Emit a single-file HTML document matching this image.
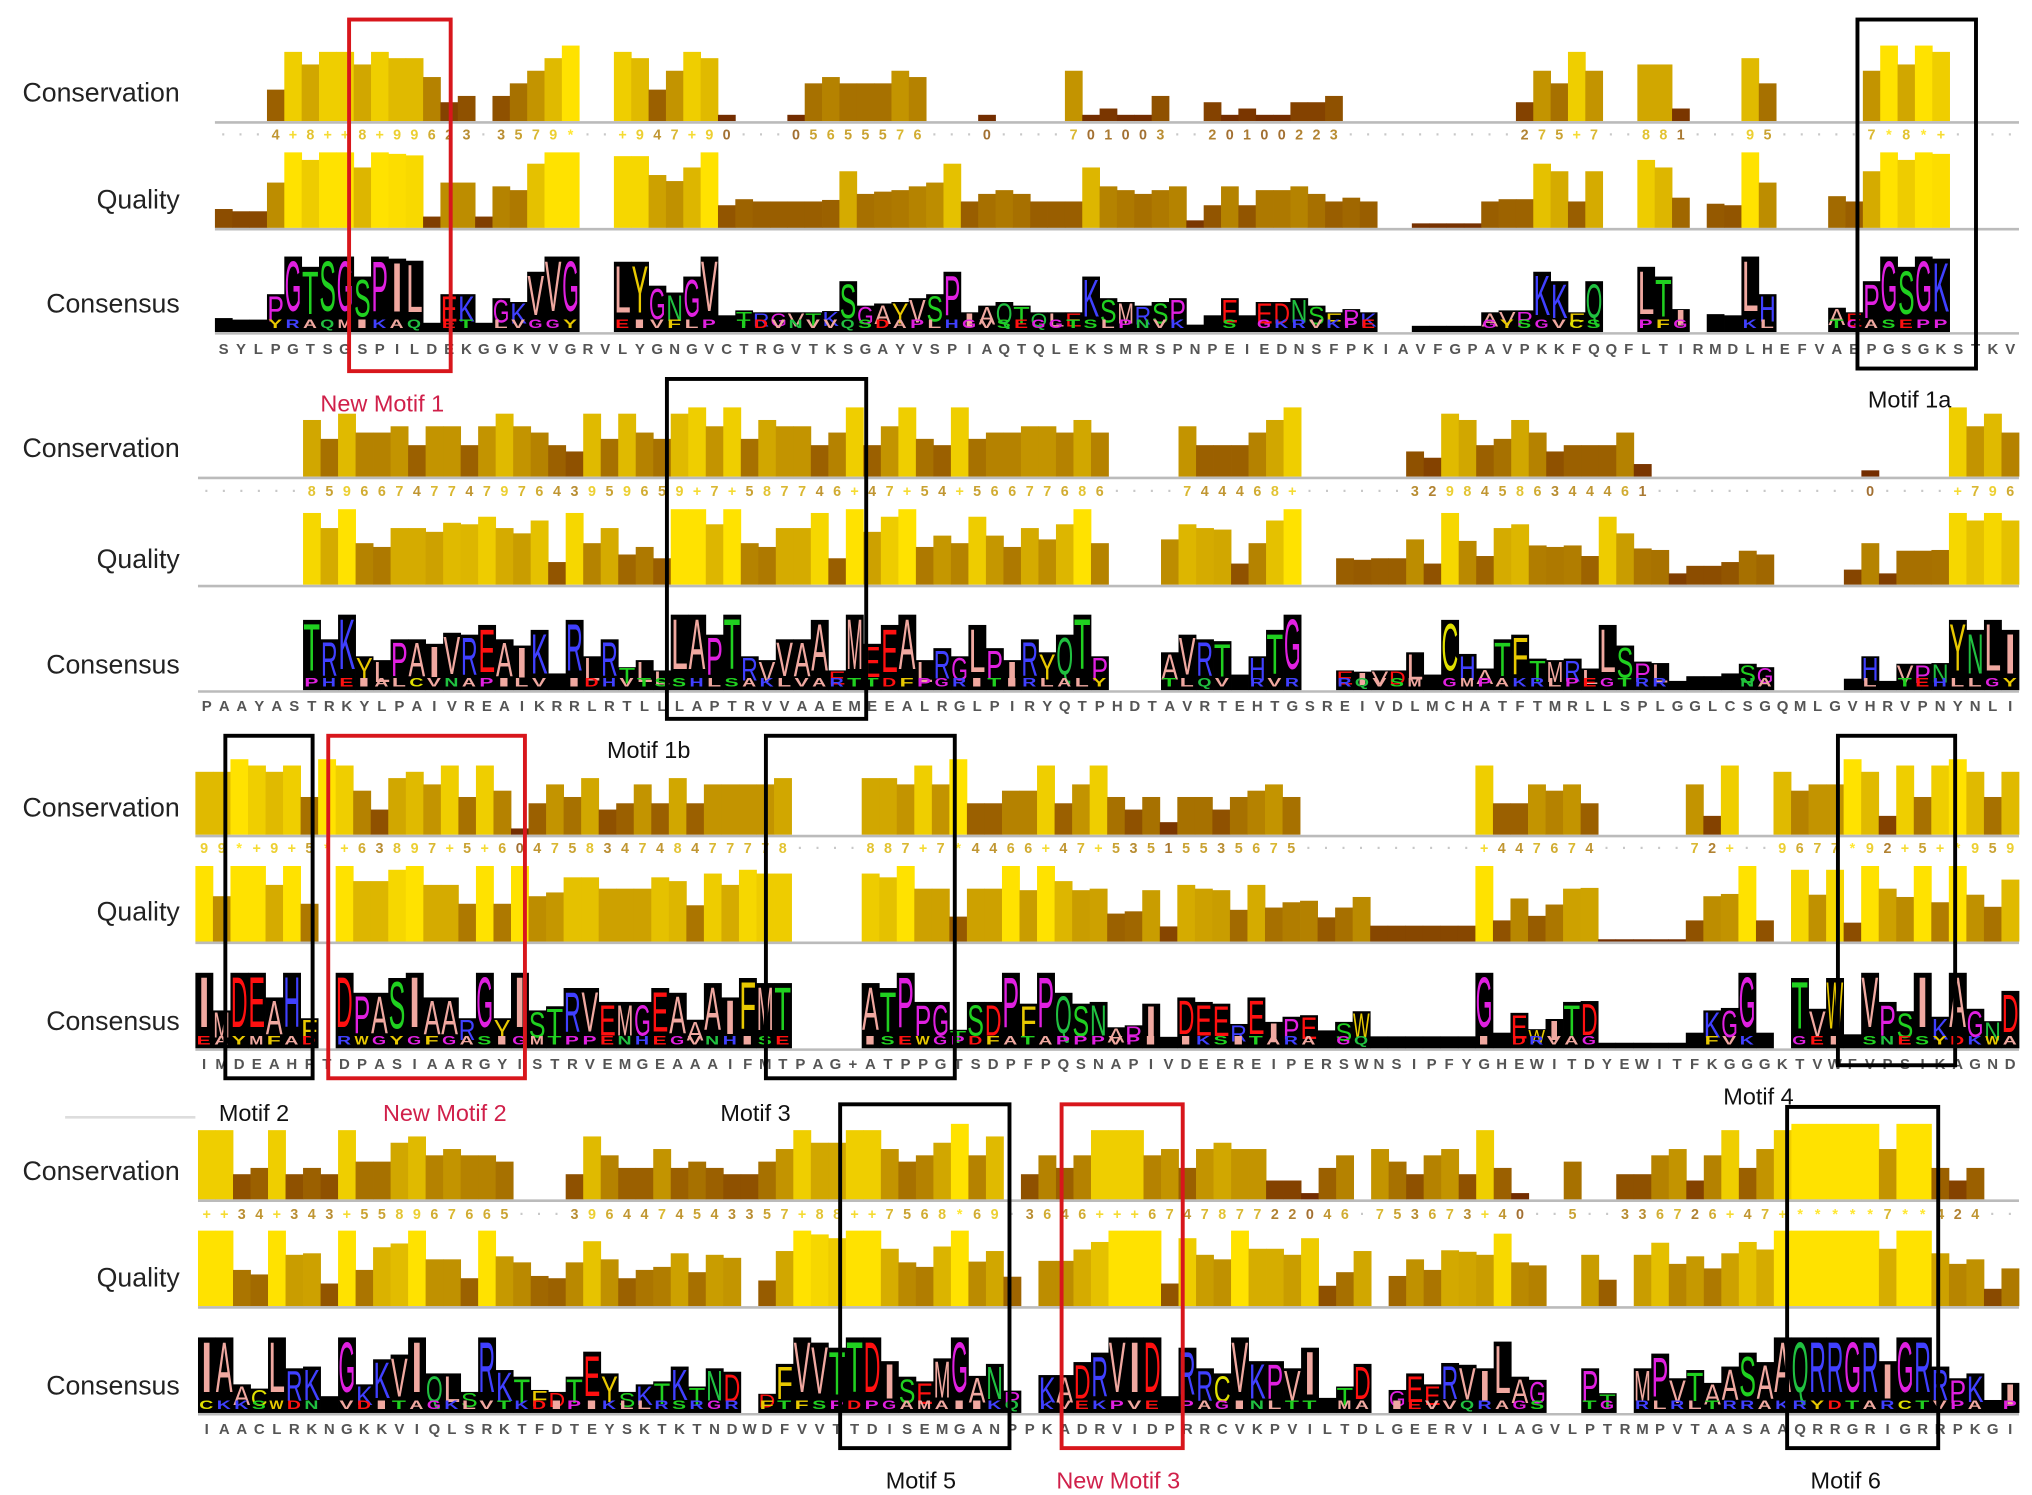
<!DOCTYPE html>
<html><head><meta charset="utf-8">
<style>
html,body{margin:0;padding:0;background:#fff;}
svg{display:block;}
</style></head>
<body>
<svg id="chart" width="2032" height="1495" viewBox="0 0 1560 1148" preserveAspectRatio="none" xmlns="http://www.w3.org/2000/svg" font-family="Liberation Sans, Arial, sans-serif">
<rect x="0" y="0" width="1560" height="1148" fill="#fff"/>
<g id="panels"></g>
<g id="boxes" fill="none" stroke-width="3">
  <rect x="268" y="15" width="78" height="270" stroke="#d8161c"/>
  <rect x="1426" y="15" width="91" height="268" stroke="#000"/>
  <rect x="512" y="291" width="153" height="261" stroke="#000"/>
  <rect x="173" y="565" width="67" height="263" stroke="#000"/>
  <rect x="252" y="565" width="151" height="263" stroke="#d8161c"/>
  <rect x="588" y="565" width="145" height="263" stroke="#000"/>
  <rect x="1411" y="565" width="90" height="253" stroke="#000"/>
  <rect x="645" y="848" width="130" height="264" stroke="#000"/>
  <rect x="815" y="848" width="93" height="264" stroke="#d8161c"/>
  <rect x="1372" y="850" width="116" height="262" stroke="#000"/>
</g>
<line x1="50" y1="858" x2="150" y2="858" stroke="#ddd" stroke-width="2"/>
<g font-size="18">
  <text x="246" y="316" fill="#d0204a">New Motif 1</text>
  <text x="1434" y="313" fill="#111">Motif 1a</text>
  <text x="466" y="582" fill="#111">Motif 1b</text>
  <text x="168" y="861" fill="#111">Motif 2</text>
  <text x="294" y="861" fill="#d0204a">New Motif 2</text>
  <text x="553" y="861" fill="#111">Motif 3</text>
  <text x="1323" y="848" fill="#111">Motif 4</text>
  <text x="680" y="1143" fill="#111">Motif 5</text>
  <text x="811" y="1143" fill="#d0204a">New Motif 3</text>
  <text x="1390" y="1143" fill="#111">Motif 6</text>
</g>
</svg>
<script>
const _ = null;
const seq1 = "SYLPGTSGSPILDEKGGKVVGRVLYGNGVCTRGVTKSGAYVSPIAQTQLEKSMRSPNPEIEDNSFPKIAVFGPAVPKKFQQFLTIRMDLHEFVAEPGSGKSTKV";
const seq2 = "PAAYASTRKYLPAIVREAIKRRLRTLLLAPTRVVAAEMEEALRGLPIRYQTPHDTAVRTEHTGSREIVDLMCHATFTMRLLSPLGGLCSGQMLGVHRVPNYNLI";
const seq3 = "IMDEAHFTDPASIAARGYISTRVEMGEAAAIFMTPAG+ATPPGTSDPFPQSNAPIVDEEREIPERSWNSIPFYGHEWITDYEWITFKGGGKTVWFVPSIKAGND";
const seq4 = "IAACLRKNGKKVIQLSRKTFDTEYSKTKTNDWDFVVTTDISEMGANPPKADRVIDPRRCVKPVILTDLGEERVILAGVLPTRMPVTAASAAQRRGRIGRRPKGI";

const cons1 = [_,_,_,4,10,8,10,10,8,10, 9,9,6,2,3,_,3,5,7,9, 11,_,_,10,9,4,7,10,9,0, _,_,_,0,5,6,5,5,5,7, 6,_,_,_,0,_,_,_,_,7, 0,1,0,0,3,_,_,2,0,1, 0,0,2,2,3,_,_,_,_,_, _,_,_,_,_,2,7,5,10,7, _,_,8,8,1,_,_,_,9,5, _,_,_,_,_,7,11,8,11,10, _,_,_,_];
const qual1 = [2.5,2.2,2.2,6,10,9,10,10,8,10, 9.8,9.6,1.5,6,6,1.5,5.5,5,8.5,10, 10,_,_,9.5,9.5,7,6.2,8,10,3, 3.8,3.5,3.5,3.5,3.5,3.7,7.5,4.5,4.8,5, 5.5,6,8.5,3.5,4.5,5,4.5,3.5,3.5,3.5, 8,5.5,5,4.5,5,5.5,1,3,5.5,3, 5,5,5.5,4.5,3.5,4,3.5,_,_,0.6, 0.6,0.6,0.6,3.5,3.8,3.8,8.5,7.5,3.5,7.5, _,_,9,8,4,_,3.2,3,10,6, _,_,_,4.2,3.5,7.5,10,9,10,9.8, _,_,_,_];

const cons2 = [_,_,_,_,_,_,8,5,9,6, 6,7,4,7,7,4,7,9,7,6, 4,3,9,5,9,6,5,9,10,7, 10,5,8,7,7,4,6,10,4,7, 10,5,4,10,5,6,6,7,7,6, 8,6,_,_,_,_,7,4,4,4, 6,8,10,_,_,_,_,_,_,3, 2,9,8,4,5,8,6,3,4,4, 4,6,1,_,_,_,_,_,_,_, _,_,_,_,_,0,_,_,_,_, 10,7,9,6];
const qual2 = [_,_,_,_,_,_,9.5,7.5,10,5.5, 5,7.5,7.5,7,8.2,8,9,7.5,6.8,8.5, 3,9.5,5.5,7.5,4,5,3.5,10,10,8, 10,5.5,5,7.5,7.5,9.5,3.5,10,7,9, 10,5,6.5,5.5,9,6.5,5,7.5,6,8, 10,5.5,_,_,_,6,8,7.5,7.3,2.8, 5.5,8.5,10,_,_,3.5,3.3,3.5,3.5,6, 2.8,9.5,5.8,3.8,7.5,8,5.2,5,5.2,3.8, 9,6.8,4.8,4.6,1.5,2.5,2.5,3,4.5,4, _,_,_,_,2,5.5,1.5,4.5,4.5,4.6, 9.5,8.5,9.5,8.5];

const cons3 = [9,9,11,10,9,10,5,11,10,6, 3,8,9,7,10,5,10,6,0,4, 7,5,8,3,4,7,4,8,4,7, 7,7,7,8,_,_,_,_,8,8, 7,10,7,11,4,4,6,6,10,4, 7,10,5,3,5,1,5,5,3,5, 6,7,5,_,_,_,_,_,_,_, _,_,_,10,4,4,7,6,7,4, _,_,_,_,_,7,2,10,_,_, 9,6,7,7,11,9,2,10,5,10, 11,9,5,9];
const qual3 = [10,6,10,10,7.5,10,5,_,10,8, 8,9.5,10,7.5,7.5,5,10,5,10,6, 6.5,8.5,8.5,7,7,7,8.5,8,4.8,9, 7.5,9.5,9,9,_,_,_,_,9,8.5, 10,7,7,3.3,7,7,10,6.8,10,8, 6.8,7,3.7,4,6.8,2,7.5,7,6.8,4.2, 7.5,4.5,5.2,5.4,3.2,4.5,5.9,2.1,2.1,2.1, 2.1,2.1,2.1,10,2.8,5.7,3.4,4.9,7,7.1, 0.3,0.3,0.3,0.3,0.3,2.8,6,6.3,10,2.8, _,9.5,6.2,9.5,2.5,10,7,5.9,10,5.2, 10,6.2,4.6,8.2];

const cons4 = [10,10,3,4,10,3,4,3,10,5, 5,8,9,6,7,6,6,5,_,_, _,3,9,6,4,4,7,4,5,4, 3,3,5,7,10,8,8,10,10,7, 5,6,8,11,6,9,_,3,6,4, 6,10,10,10,6,7,4,7,8,7, 7,2,2,0,4,6,_,7,5,3, 6,7,3,10,4,0,_,_,5,_, _,3,3,6,7,2,6,10,4,7, 10,11,11,11,11,11,7,11,11,4, 2,4,_,_];
const qual4 = [10,10,4.8,4.2,10,6.8,7,3,10,4.8, 7.8,8.3,10,6.2,6.2,3.7,10,6.6,5.8,4, 3.7,5.8,8.6,6.2,3.7,4.8,5.2,7,4.5,6.8, 6.4,_,3.4,7.3,10,9.5,9,10,10,7.6, 5.8,5.2,7.9,10,5.9,7.3,3.9,_,6,6, 7.5,8.5,10,10,10,3,9,6.8,6.2,10, 7.6,7.6,6.8,9,2.7,4.5,7.3,_,4,6.2, 4.8,7.4,7.2,6.8,9.6,5.8,5.4,_,_,6.8, 3.5,_,6.8,8.4,5.6,6.6,5,7,8.5,7.5, 10,10,10,10,10,10,7.6,10,10,7, 5.6,6.2,2.3,5];

const panelSeqs = [seq1, seq2, seq3, seq4];
const panelCons = [cons1, cons2, cons3, cons4];
const panelQual = [qual1, qual2, qual3, qual4];

const NS = "http://www.w3.org/2000/svg";
const layouts = [
  {x0:165, x1:1550, consBase:93, numY:107, qualBase:175, logoBase:255, seqY:272, labY:[71,153,233]},
  {x0:152, x1:1550, consBase:366, numY:381, qualBase:449, logoBase:530, seqY:546, labY:[344,429,510]},
  {x0:150, x1:1550, consBase:641, numY:655, qualBase:723, logoBase:805, seqY:821, labY:[620,700,784]},
  {x0:152, x1:1550, consBase:921, numY:936, qualBase:1003, logoBase:1085, seqY:1101, labY:[899,981,1064]}
];
const MAXH = 58;

function mk(tag, attrs, parent){
  const e = document.createElementNS(NS, tag);
  for (const k in attrs) e.setAttribute(k, attrs[k]);
  parent.appendChild(e);
  return e;
}
function lerpColor(t){
  t = Math.max(0, Math.min(1, t));
  t = Math.pow(t, 1.25);
  const r = Math.round(115 + (255-115)*t);
  const g = Math.round(45 + (226-45)*t);
  return `rgb(${r},${g},0)`;
}
function xScale(L, i){ return L.x0 + i*(L.x1-L.x0)/104; }
function consH(v){ return (v+1)/12*MAXH; }
function qualH(v){ return v/10*MAXH; }
function resColor(c){
  if ("GP".includes(c)) return "#e020e0";
  if ("ST".includes(c)) return "#20d020";
  if ("NQ".includes(c)) return "#20c040";
  if ("DE".includes(c)) return "#ff1010";
  if ("KRH".includes(c)) return "#4040ff";
  if ("FYW".includes(c)) return "#e8c800";
  if (c === "C") return "#e0e000";
  return "#f0a8a0";
}
const numChar = v => v === null ? "·" : (v === 10 ? "+" : (v === 11 ? "*" : String(v)));

const root = document.getElementById("panels");
layouts.forEach((L, p) => {
  const g = mk("g", {}, root);
  
  
  const cw = (L.x1 - L.x0)/104;
  const names = ["Conservation","Quality","Consensus"];
  names.forEach((n, k) => {
    const t = mk("text", {x:138, y:L.labY[k]+7, "text-anchor":"end", "font-size":"20.5", fill:"#222"}, g);
    
    
    t.textContent = n;
  });
  const cons = panelCons[p], qual = panelQual[p], seq = panelSeqs[p];
  for (let i = 0; i < 104; i++){
    const x = xScale(L, i);
    const cv = cons[i];
    if (cv !== null && cv !== undefined){
      const h = consH(cv);
      const r = mk("rect", {x:x, y:L.consBase-h, width:cw+0.3, height:h, fill:lerpColor(cv/11)}, g);
      
      
    }
    const nt = mk("text", {x:x+cw/2, y:L.numY, "text-anchor":"middle", "font-size":"11", "font-weight":"bold",
      fill: cv === null ? "#bbb" : lerpColor(0.25 + (cv/11)*0.75), opacity: 0.8}, g);
    
    
    nt.textContent = numChar(cv === undefined ? null : cv);
    const qv = qual[i];
    if (qv !== null && qv !== undefined){
      const h = Math.max(1.5, qualH(qv));
      const r = mk("rect", {x:x, y:L.qualBase-h, width:cw+0.3, height:h, fill:lerpColor(qv/10)}, g);
      
      
      const lh = 4 + Math.pow(qv/10, 1.5)*54;
      const blk = mk("rect", {x:x, y:L.logoBase-lh, width:cw+0.3, height:lh, fill:"#000"}, g);
      
      
      const c = seq[i];
      if (lh > 14 && c !== "+"){
        const letH = lh*0.68;
        const lt = mk("text", {x:x+0.3, y:L.logoBase - lh*0.28, "font-size": (letH/0.72).toFixed(1),
          textLength:(cw*0.95).toFixed(1), lengthAdjust:"spacingAndGlyphs", fill:resColor(c)}, g);
        
        
        lt.textContent = c;
        const sub = seq[(i*7+3)%104];
        const st = mk("text", {x:x+1, y:L.logoBase - 3, "font-size":"9", "font-weight":"bold",
          textLength:(cw*0.8).toFixed(1), lengthAdjust:"spacingAndGlyphs", fill:resColor(sub)}, g);
        
        
        st.textContent = sub === "+" ? "." : sub;
      }
    }
    const s = mk("text", {x:x+cw/2, y:L.seqY, "text-anchor":"middle", "font-size":"11.5", "font-weight":"bold", fill:"#555"}, g);
    
    
    s.textContent = seq[i];
  }
  [L.consBase, L.qualBase, L.logoBase].forEach((y, k) => {
    const ln = mk("line", {x1:L.x0, y1:y+1, x2:L.x1, y2:y+1, stroke:"#bbb", "stroke-width":"2"}, g);
    
    
  });
});
</script>
</body></html>
